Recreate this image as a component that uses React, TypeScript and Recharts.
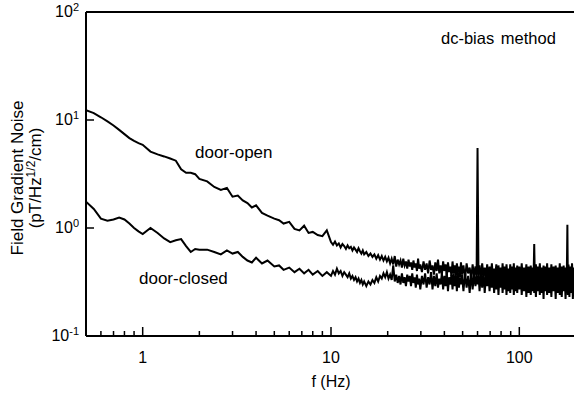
import React from "react";
import { LineChart, Line, XAxis, YAxis, ReferenceLine } from "recharts";

// frequency grid (Hz)
const freqs = [
  0.5, 0.55, 0.6, 0.65, 0.7, 0.75, 0.8, 0.85, 0.9, 0.95,
  1, 1.1, 1.2, 1.3, 1.4, 1.5, 1.6, 1.7, 1.8, 1.9, 2,
  2.2, 2.4, 2.6, 2.8, 3, 3.2, 3.4, 3.6, 3.8, 4, 4.3, 4.6,
  5, 5.3, 5.6, 6, 6.4, 6.8, 7.2, 7.6, 8, 8.5, 9, 9.5, 10,
  10.25, 10.5, 10.75, 11, 11.25, 11.5, 11.75, 12, 12.25, 12.5,
  12.75, 13, 13.25, 13.5, 13.75, 14, 14.25, 14.5, 14.75, 15,
  15.4, 15.8, 16.2, 16.6, 17, 17.4, 17.8, 18.2, 18.6, 19,
  19.4, 19.8, 20.2, 20.6, 21, 21.4, 21.8, 22.2, 22.6, 23,
  23.4, 23.8, 24.2, 24.6, 25, 25.4, 25.8, 26.2, 26.6, 27,
  27.4, 27.8, 28.2, 28.6, 29, 29.4, 29.8, 30.4, 31, 31.6,
  32.2, 32.8, 33.4, 34, 34.6, 35.2, 35.8, 36.4, 37, 37.6,
  38.2, 38.8, 39.4, 40, 40.6, 41.2, 41.8, 42.4, 43, 43.6,
  44.2, 44.8, 45.4, 46, 46.6, 47.2, 47.8, 48.4, 49, 49.6,
  50.5, 51.5, 52.5, 53.5, 54.5, 55.5, 56.5, 57.5, 58.5, 59.3,
  60, 60.7, 61.5, 62.5, 63.5, 64.5, 65.5, 66.5, 67.5, 68.5,
  69.5, 70.5, 71.5, 72.5, 73.5, 74.5, 75.5, 76.5, 77.5, 78.5,
  79.5, 80.5, 81.5, 82.5, 83.5, 84.5, 85.5, 86.5, 87.5, 88.5,
  89.5, 90.5, 91.5, 92.5, 93.5, 94.5, 95.5, 96.5, 97.5, 98.5,
  100, 101.5, 103, 104.5, 106, 107.5, 109, 110.5, 112, 113.5,
  115, 116.5, 118, 119, 120, 121, 122.5, 124, 125.5, 127,
  128.5, 130, 131.5, 133, 134.5, 136, 137.5, 139, 140.5, 142,
  144, 146, 148, 150, 152, 154, 156, 158, 160, 162,
  164, 166, 168, 170, 172, 174, 176, 178, 179, 180,
  181, 182.5, 184.5, 186.5, 188.5, 190.5, 192.5, 194.5, 196.5, 198.5,
  200,
];

const doorOpen = [
  12.3, 11.6, 10.6, 9.7, 8.9, 8.1, 7.4, 6.8, 6.4, 6.1,
  5.9, 5.1, 4.8, 4.6, 4.4, 4.2, 3.5, 3.25, 3.25, 3.15, 2.85,
  2.7, 2.4, 2.25, 2.35, 1.95, 2.0, 1.8, 1.7, 1.55, 1.62, 1.38, 1.3,
  1.22, 1.18, 1.1, 1.14, 0.98, 0.95, 1.05, 0.9, 0.92, 0.86, 0.84, 0.95, 0.74,
  0.70, 0.75, 0.69, 0.72, 0.66, 0.71, 0.68, 0.64, 0.69, 0.65,
  0.67, 0.62, 0.66, 0.63, 0.60, 0.65, 0.61, 0.58, 0.62, 0.57,
  0.60, 0.55, 0.58, 0.54, 0.57, 0.52, 0.56, 0.51, 0.55, 0.50,
  0.54, 0.49, 0.53, 0.47, 0.52, 0.46, 0.55, 0.44, 0.51, 0.46,
  0.50, 0.43, 0.52, 0.45, 0.49, 0.42, 0.51, 0.44, 0.48, 0.41,
  0.50, 0.43, 0.47, 0.40, 0.52, 0.42, 0.46, 0.39, 0.49, 0.41,
  0.47, 0.38, 0.50, 0.41, 0.45, 0.37, 0.48, 0.40, 0.51, 0.38,
  0.45, 0.37, 0.49, 0.40, 0.46, 0.36, 0.48, 0.39, 0.44, 0.36,
  0.49, 0.38, 0.45, 0.35, 0.47, 0.39, 0.44, 0.35, 0.48, 0.37,
  0.45, 0.34, 0.47, 0.38, 0.43, 0.34, 0.46, 0.36, 0.44, 0.35,
  5.5, 0.37, 0.45, 0.33, 0.47, 0.36, 0.43, 0.34, 0.46, 0.33,
  0.44, 0.35, 0.47, 0.33, 0.42, 0.36, 0.46, 0.32, 0.45, 0.35,
  0.43, 0.32, 0.47, 0.34, 0.44, 0.31, 0.46, 0.35, 0.42, 0.33,
  0.46, 0.32, 0.44, 0.34, 0.47, 0.31, 0.43, 0.35, 0.45, 0.32,
  0.44, 0.33, 0.47, 0.31, 0.43, 0.34, 0.46, 0.30, 0.44, 0.33,
  0.45, 0.31, 0.43, 0.34, 0.71, 0.32, 0.46, 0.30, 0.44, 0.33,
  0.47, 0.31, 0.43, 0.34, 0.45, 0.30, 0.44, 0.32, 0.47, 0.31,
  0.43, 0.33, 0.46, 0.30, 0.44, 0.32, 0.45, 0.29, 0.43, 0.33,
  0.47, 0.31, 0.44, 0.32, 0.45, 0.30, 0.43, 0.33, 0.45, 1.07,
  0.32, 0.46, 0.30, 0.44, 0.33, 0.47, 0.31, 0.43, 0.32, 0.45,
  0.33,
];

const doorClosed = [
  1.75, 1.5, 1.22, 1.17, 1.2, 1.25, 1.2, 1.1, 1.0, 0.93,
  0.88, 1.0, 0.9, 0.8, 0.74, 0.77, 0.79, 0.68, 0.6, 0.64, 0.63,
  0.63, 0.6, 0.57, 0.62, 0.58, 0.6, 0.54, 0.5, 0.48, 0.53, 0.47, 0.5,
  0.44, 0.45, 0.41, 0.43, 0.39, 0.42, 0.38, 0.41, 0.37, 0.4, 0.36, 0.39, 0.36,
  0.40, 0.37, 0.42, 0.38, 0.40, 0.36, 0.39, 0.37, 0.35, 0.38,
  0.34, 0.36, 0.33, 0.35, 0.32, 0.34, 0.31, 0.33, 0.30, 0.32,
  0.29, 0.32, 0.30, 0.33, 0.31, 0.35, 0.32, 0.36, 0.34, 0.38,
  0.35, 0.39, 0.34, 0.37, 0.33, 0.45, 0.32, 0.37, 0.31, 0.36,
  0.30, 0.38, 0.31, 0.35, 0.29, 0.37, 0.32, 0.36, 0.29, 0.38,
  0.31, 0.35, 0.28, 0.37, 0.30, 0.34, 0.27, 0.36, 0.30, 0.38,
  0.28, 0.35, 0.30, 0.39, 0.27, 0.36, 0.29, 0.38, 0.28, 0.34,
  0.30, 0.38, 0.27, 0.36, 0.29, 0.39, 0.26, 0.35, 0.30, 0.37,
  0.27, 0.38, 0.29, 0.36, 0.26, 0.39, 0.28, 0.35, 0.30, 0.37,
  0.26, 0.38, 0.28, 0.36, 0.25, 0.39, 0.27, 0.37, 0.29, 0.36,
  0.30, 0.38, 0.26, 0.37, 0.28, 0.40, 0.25, 0.36, 0.29, 0.38,
  0.26, 0.37, 0.28, 0.39, 0.25, 0.36, 0.27, 0.38, 0.24, 0.37,
  0.28, 0.39, 0.25, 0.36, 0.27, 0.38, 0.24, 0.37, 0.26, 0.39,
  0.25, 0.36, 0.27, 0.38, 0.24, 0.37, 0.26, 0.39, 0.25, 0.36,
  0.27, 0.38, 0.24, 0.37, 0.26, 0.39, 0.23, 0.36, 0.25, 0.38,
  0.24, 0.37, 0.26, 0.39, 0.25, 0.36, 0.23, 0.38, 0.26, 0.37,
  0.24, 0.39, 0.25, 0.36, 0.22, 0.38, 0.26, 0.37, 0.24, 0.39,
  0.25, 0.36, 0.23, 0.38, 0.26, 0.37, 0.22, 0.39, 0.25, 0.36,
  0.24, 0.38, 0.23, 0.37, 0.26, 0.39, 0.22, 0.36, 0.25, 0.37,
  0.24, 0.38, 0.23, 0.36, 0.25, 0.39, 0.22, 0.37, 0.24, 0.38,
  0.26,
];

const xTicks = [0.6, 0.7, 0.8, 0.9, 1, 2, 3, 4, 5, 6, 7, 8, 9, 10, 20, 30, 40, 50, 60, 70, 80, 90, 100];
const xTickLabels: Record<number, string> = { 1: "1", 10: "10", 100: "100" };
const yTicks = [0.1, 1, 10, 100];
const yTickExponents: Record<number, string> = { 0.1: "-1", 1: "0", 10: "1", 100: "2" };

const data = freqs.map((f, i) => ({ f, open: doorOpen[i], closed: doorClosed[i] }));

const FONT = "'Liberation Sans', Arial, Helvetica, sans-serif";

const XTick = (props: any) => {
  const { x, y, payload } = props;
  const label = xTickLabels[payload.value];
  const len = label ? 9 : 5;
  return (
    <g>
      <line x1={x} x2={x} y1={y} y2={y - len} stroke="#000" strokeWidth={1.5} />
      {label && (
        <text x={x} y={y + 27} textAnchor="middle" fontSize={16} fontFamily={FONT} fill="#000">
          {label}
        </text>
      )}
    </g>
  );
};

const YTick = (props: any) => {
  const { x, y, payload } = props;
  const exp = yTickExponents[payload.value];
  return (
    <g>
      {payload.value !== 100 && payload.value !== 0.1 && (
        <line x1={x} x2={x + 8} y1={y} y2={y} stroke="#000" strokeWidth={1.5} />
      )}
      <text x={x - 7} y={y + 5} textAnchor="end" fontSize={16} fontFamily={FONT} fill="#000">
        10
        <tspan dy={-6} fontSize={11}>{exp}</tspan>
      </text>
    </g>
  );
};

export default function App() {
  return (
    <div style={{ position: "absolute", left: 0, top: 0, width: 574, height: 396, overflow: "hidden", background: "#fff" }}>
      <LineChart width={576} height={396} data={data} margin={{ top: 12, right: 0, bottom: 0, left: 0 }}>
        <XAxis
          dataKey="f"
          type="number"
          scale="log"
          domain={[0.5, 200]}
          ticks={xTicks}
          interval={0}
          tick={<XTick />}
          tickLine={false}
          tickSize={0}
          tickMargin={0}
          height={60}
          axisLine={{ stroke: "#000", strokeWidth: 2 }}
          allowDataOverflow
        />
        <YAxis
          type="number"
          scale="log"
          domain={[0.1, 100]}
          ticks={yTicks}
          interval={0}
          tick={<YTick />}
          tickLine={false}
          tickSize={0}
          tickMargin={0}
          width={86}
          axisLine={{ stroke: "#000", strokeWidth: 2 }}
          allowDataOverflow
        />
        <ReferenceLine y={100} stroke="#000" strokeWidth={2} />
        <Line dataKey="open" stroke="#000" strokeWidth={2} dot={false} type="linear" isAnimationActive={false} />
        <Line dataKey="closed" stroke="#000" strokeWidth={2} dot={false} type="linear" isAnimationActive={false} />
      </LineChart>
      <svg width={574} height={396} style={{ position: "absolute", left: 0, top: 0, pointerEvents: "none" }}>
        <g fontFamily={FONT} fill="#000">
          <text x={23} y={178} transform="rotate(-90 23 178)" textAnchor="middle" fontSize={17}>
            Field Gradient Noise
          </text>
          <text x={41} y={178} transform="rotate(-90 41 178)" textAnchor="middle" fontSize={17}>
            (pT/Hz
            <tspan dy={-6} fontSize={12}>1/2</tspan>
            <tspan dy={6}>/cm)</tspan>
          </text>
          <text x={195} y={158} fontSize={17}>door-open</text>
          <text x={139} y={284} fontSize={17}>door-closed</text>
          <text x={441} y={44} fontSize={16.5} wordSpacing={2}>dc-bias method</text>
          <text x={331} y={387} textAnchor="middle" fontSize={16}>f (Hz)</text>
        </g>
      </svg>
    </div>
  );
}
